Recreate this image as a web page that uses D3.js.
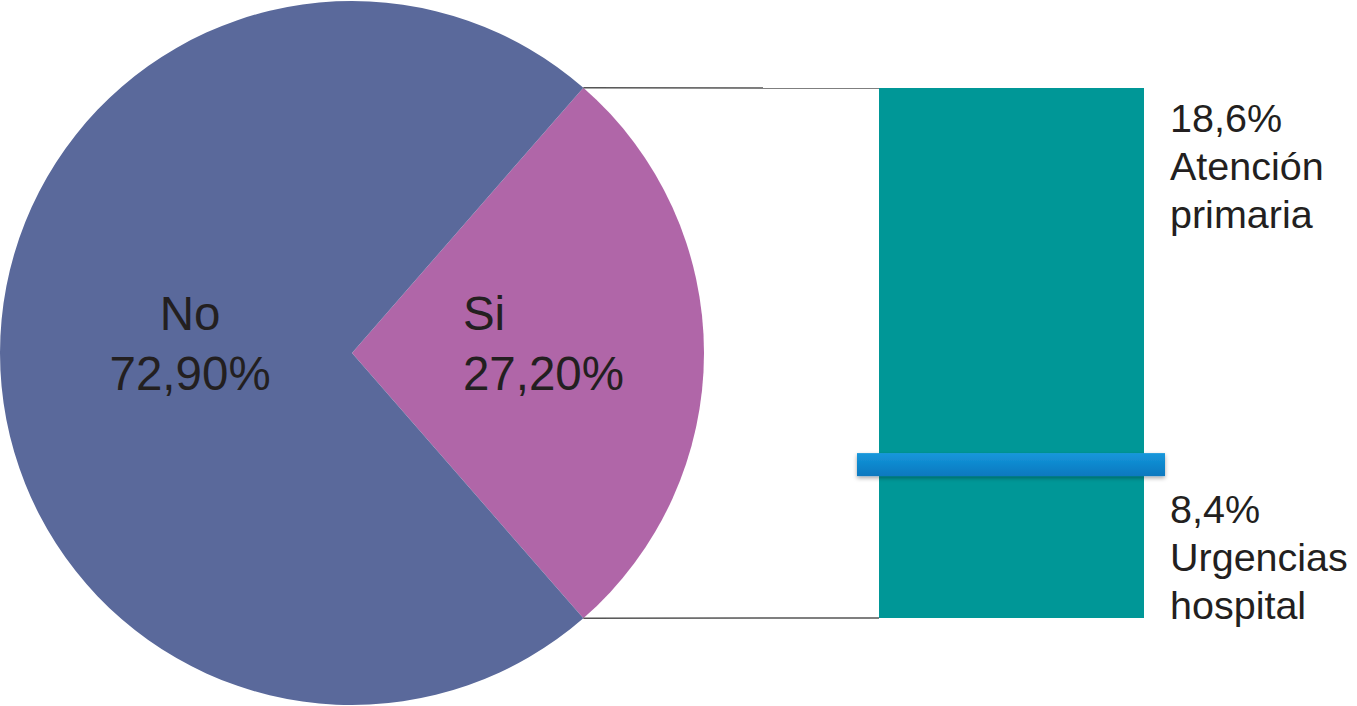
<!DOCTYPE html>
<html>
  <head>
    <meta charset="utf-8" />
    <title>Pie of bar</title>
    <style>
      body { margin: 0; background: #fff; }
    </style>
  </head>
  <body>
    <div id="chart"></div>
    <script src="https://d3js.org/d3.v7.min.js"></script>
    <script>
        const pieLabels = ["Si", "No"];
        const pieValues = [27.2, 72.9];
        const pieText = ["27,20%", "72,90%"];
        const barLabels = ["Urgencias hospital", "Atención primaria"];
        const barValues = [8.4, 18.6];
        const barText = ["8,4%", "18,6%"];

        const width = 1357, height = 706;
        const cx = 352, cy = 353, r = 352;
        const colors = {Si: "#b066a8", No: "#5a699b"};

        const svg = d3.select("#chart").append("svg")
            .attr("width", width).attr("height", height)
            .style("font-family", "'Liberation Sans', Arial, sans-serif");

        const defs = svg.append("defs");
        const grad = defs.append("linearGradient").attr("id", "blueGrad")
            .attr("x1", 0).attr("y1", 0).attr("x2", 0).attr("y2", 1);
        grad.append("stop").attr("offset", "0%").attr("stop-color", "#1597db");
        grad.append("stop").attr("offset", "100%").attr("stop-color", "#0a78bf");
        const shadow = defs.append("filter").attr("id", "shadow")
            .attr("x", "-5%").attr("y", "-50%").attr("width", "110%").attr("height", "200%");
        shadow.append("feDropShadow").attr("dx", 0).attr("dy", 2).attr("stdDeviation", 2)
            .attr("flood-color", "#000").attr("flood-opacity", 0.35);

        // pie, "Si" slice centred on the right side
        const total = d3.sum(pieValues);
        const siSpan = pieValues[0] / total * 2 * Math.PI;
        const start = Math.PI / 2 - siSpan / 2;
        const pie = d3.pie().sort(null).startAngle(start).endAngle(start + 2 * Math.PI);
        const arcs = pie(pieValues);
        const arc = d3.arc().innerRadius(0).outerRadius(r);

        const g = svg.append("g").attr("transform", `translate(${cx},${cy})`);
        g.selectAll("path").data(arcs).join("path")
            .attr("d", arc)
            .attr("fill", (d, i) => colors[pieLabels[i]]);

        // Si label is left aligned, No label centred
        const labelRadius = [0.315 * r, 0.46 * r];
        const labelAnchor = ["start", "middle"];
        arcs.forEach((d, i) => {
            const a = (d.startAngle + d.endAngle) / 2;
            const lx = Math.sin(a) * labelRadius[i];
            const t = g.append("text")
                .attr("text-anchor", labelAnchor[i])
                .attr("font-size", 47.5)
                .attr("fill", "#231f20");
            t.append("tspan").attr("x", lx).attr("y", -23).text(pieLabels[i]);
            t.append("tspan").attr("x", lx).attr("y", 37).text(pieText[i]);
        });

        // stacked bar
        const barTotal = d3.sum(barValues);
        const y = d3.scaleLinear().domain([0, barTotal]).range([618, 88]);
        const x0 = 879, x1 = 1144;
        const stacked = [];
        let acc = 0;
        barValues.forEach((v, i) => { stacked.push({i, y0: acc, y1: acc + v}); acc += v; });

        svg.append("g").selectAll("rect").data(stacked).join("rect")
            .attr("x", x0).attr("width", x1 - x0)
            .attr("y", d => y(d.y1))
            .attr("height", d => y(d.y0) - y(d.y1))
            .attr("fill", "#009797");

        // connectors from slice edges to bar
        const edgeTop = [Math.sin(arcs[0].startAngle) * r + cx, -Math.cos(arcs[0].startAngle) * r + cy];
        const edgeBot = [Math.sin(arcs[0].endAngle) * r + cx, -Math.cos(arcs[0].endAngle) * r + cy];
        svg.append("line")
            .attr("x1", edgeTop[0]).attr("y1", edgeTop[1]).attr("x2", x0).attr("y2", y(barTotal))
            .attr("stroke", "#555").attr("stroke-width", 1.5);
        svg.append("line")
            .attr("x1", edgeBot[0]).attr("y1", edgeBot[1]).attr("x2", x0).attr("y2", y(0))
            .attr("stroke", "#555").attr("stroke-width", 1.5);

        // divider
        svg.append("rect")
            .attr("x", 857).attr("width", 308)
            .attr("y", y(barValues[0])).attr("height", 23)
            .attr("fill", "url(#blueGrad)")
            .attr("filter", "url(#shadow)");

        // bar labels
        const barLabelY = [523, 132];
        stacked.forEach((d, i) => {
            const words = barLabels[i].split(" ");
            const t = svg.append("text")
                .attr("font-size", 39.5).attr("fill", "#231f20");
            [barText[i], ...words].forEach((s, k) => {
                t.append("tspan").attr("x", 1170).attr("y", barLabelY[i] + k * 48).text(s);
            });
        });
    </script>
  </body>
</html>
